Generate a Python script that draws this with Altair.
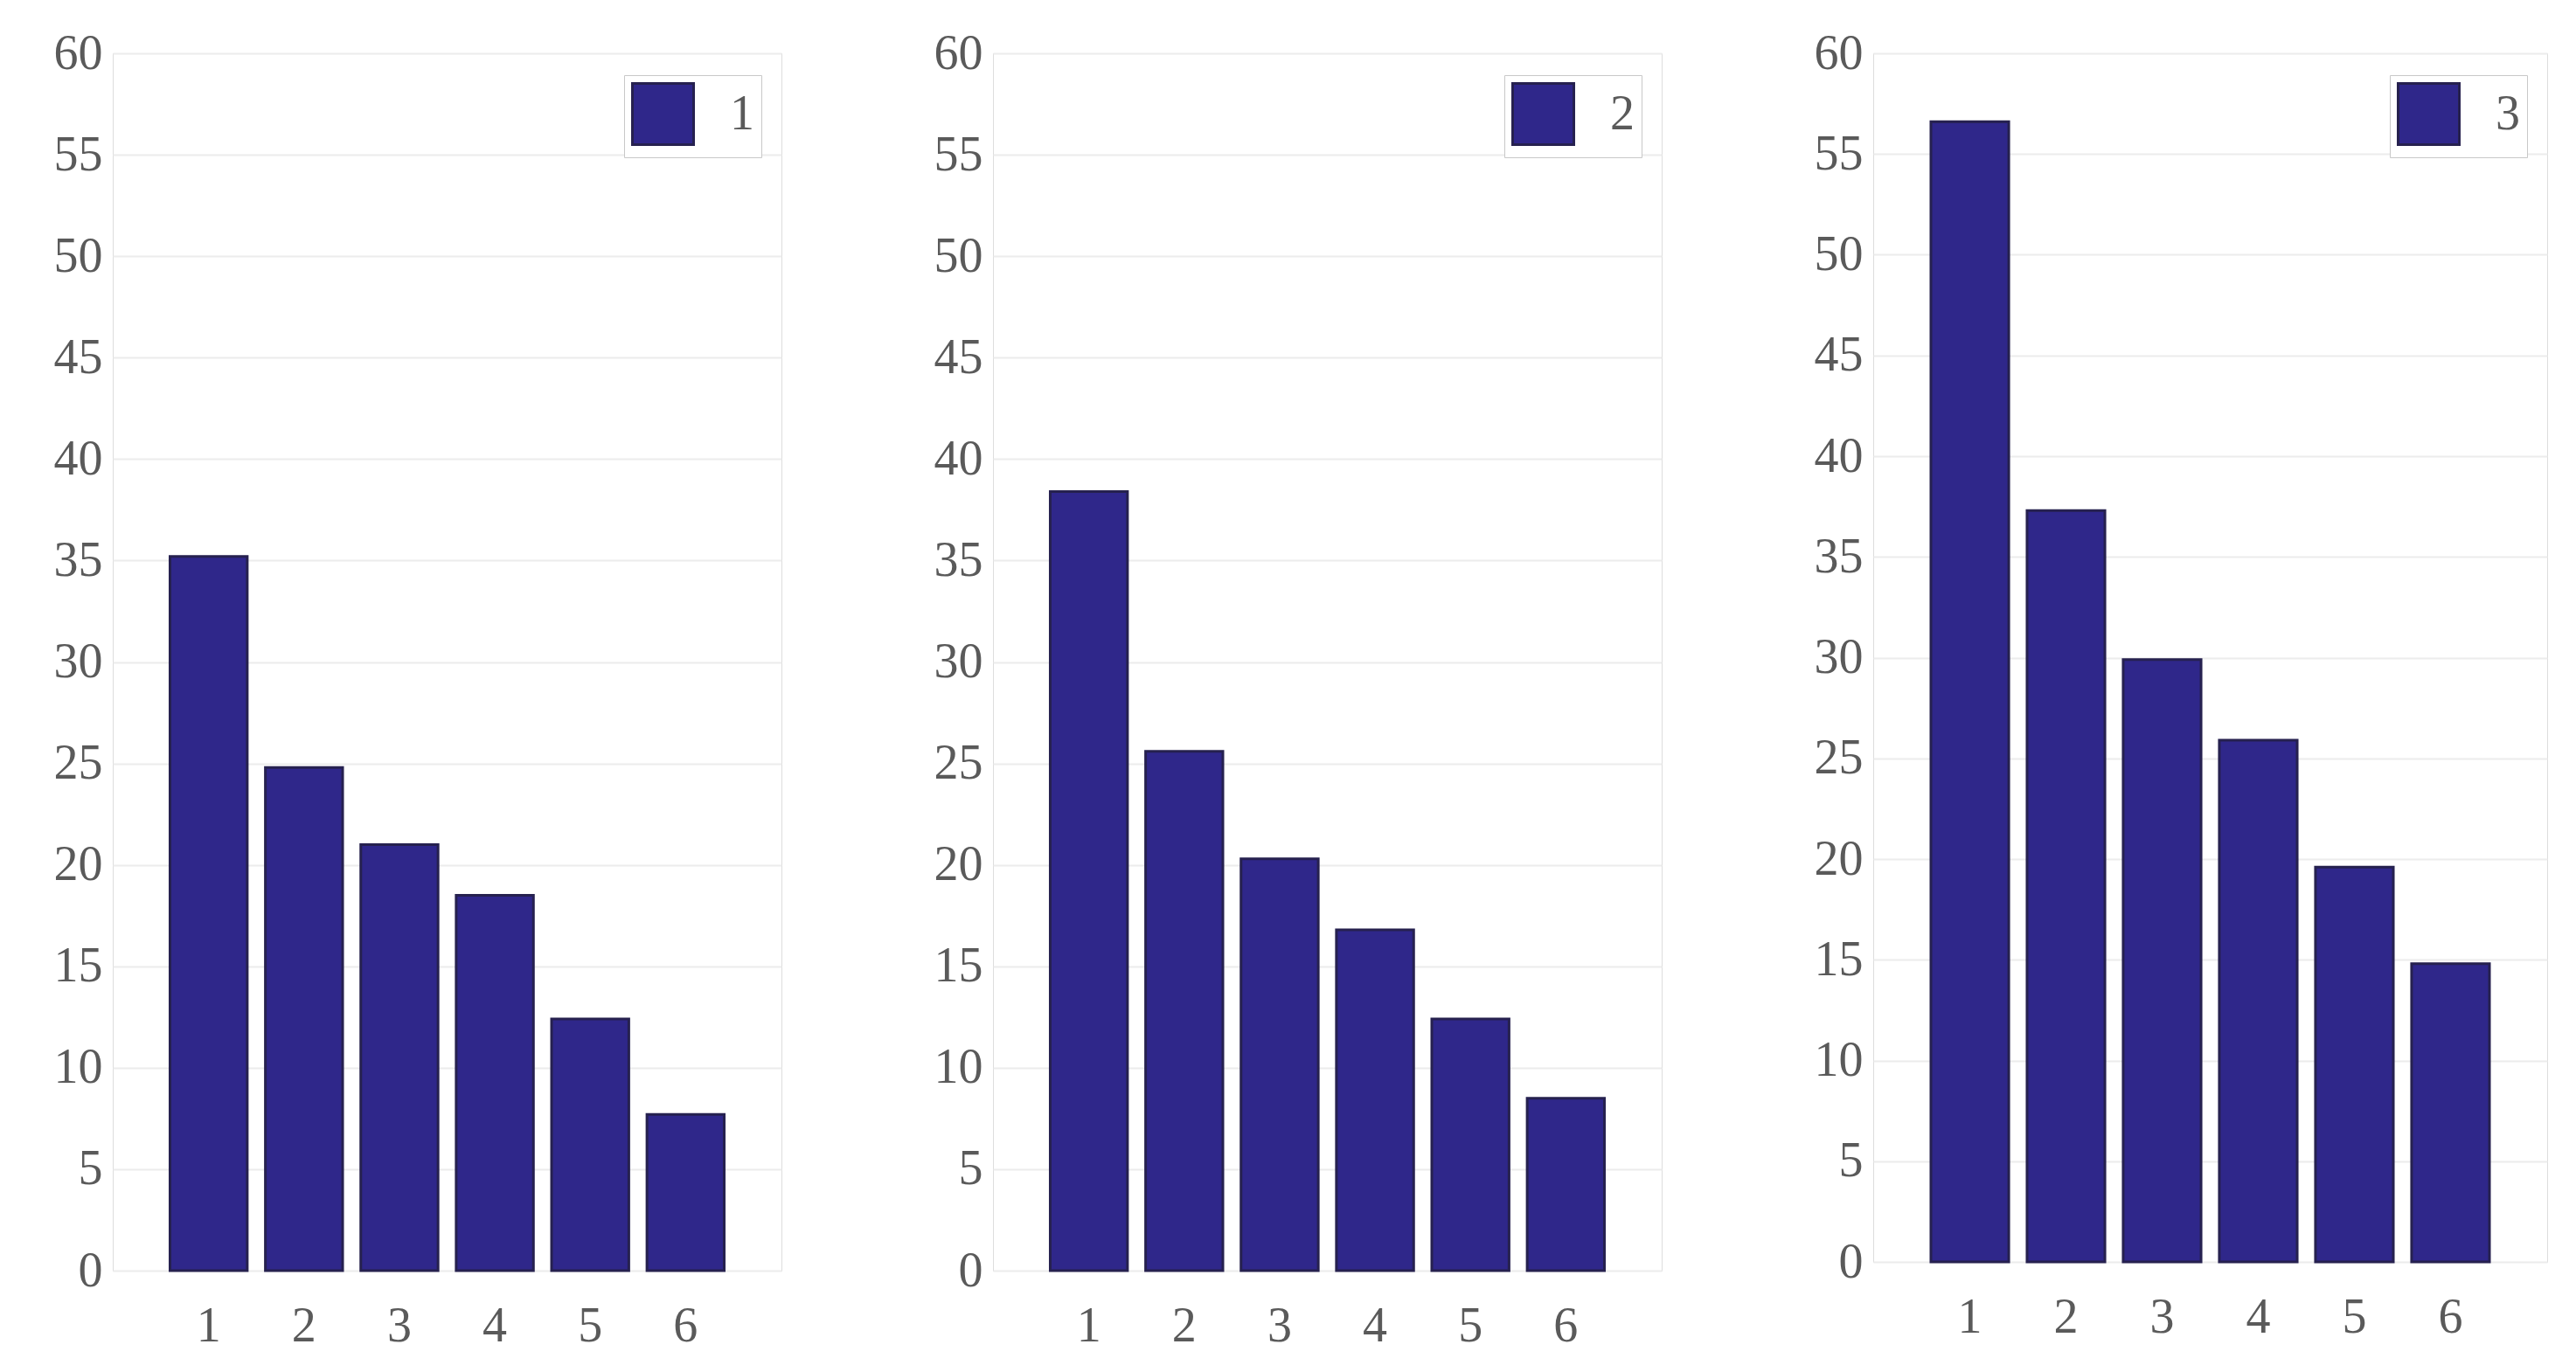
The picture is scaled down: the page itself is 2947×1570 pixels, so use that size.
import altair as alt
import pandas as pd

categories = ["1", "2", "3", "4", "5", "6"]
series_names = ["1", "2", "3"]
series_1 = [35.2, 24.8, 21.0, 18.5, 12.4, 7.7]
series_2 = [38.4, 25.6, 20.3, 16.8, 12.4, 8.5]
series_3 = [56.6, 37.3, 29.9, 25.9, 19.6, 14.8]
y_ticks = list(range(0, 61, 5))

BAR = "#2f278a"
EDGE = "#26214f"
TXT = "#5a5a5a"
FONT = "Liberation Serif"


def panel(vals, name, w, h):
    df = pd.DataFrame({"cat": categories, "val": vals, "series": name})
    return (
        alt.Chart(df)
        .mark_bar(stroke=EDGE, strokeWidth=3, fillOpacity=1)
        .encode(
            x=alt.X(
                "cat:N",
                sort=categories,
                scale=alt.Scale(paddingInner=0.19, paddingOuter=0.6),
                axis=alt.Axis(
                    title=None, labelAngle=0, ticks=False, domain=False,
                    labelPadding=36, labelFont=FONT, labelFontSize=56,
                    labelColor=TXT, grid=False,
                ),
            ),
            y=alt.Y(
                "val:Q",
                scale=alt.Scale(domain=[0, 60], nice=False),
                axis=alt.Axis(
                    title=None, values=y_ticks, ticks=False, domain=False,
                    labelPadding=12, labelFont=FONT, labelFontSize=56,
                    labelColor=TXT, grid=True, gridColor="#ececec",
                    gridWidth=2, minExtent=115, maxExtent=115,
                ),
            ),
            color=alt.Color(
                "series:N",
                scale=alt.Scale(domain=[name], range=[BAR]),
                legend=alt.Legend(
                    title=None, orient="none", legendX=w - 180, legendY=25,
                    symbolType="square", symbolSize=4900,
                    symbolStrokeColor=EDGE, symbolStrokeWidth=3,
                    labelFont=FONT, labelFontSize=56, labelColor=TXT,
                    labelOffset=40, padding=8, strokeColor="#c8c8c8",
                    fillColor="white", cornerRadius=0,
                ),
            ),
        )
        .properties(width=w, height=h)
    )


chart = (
    alt.hconcat(
        panel(series_1, series_names[0], 765, 1393),
        panel(series_2, series_names[1], 765, 1393),
        panel(series_3, series_names[2], 771, 1383),
        spacing=125,
    )
    .resolve_scale(color="independent")
    .resolve_legend(color="independent")
    .properties(padding={"left": 5, "top": 24, "right": 5, "bottom": 5})
    .configure_view(stroke="#c8c8c8", strokeWidth=3)
    .configure(background="white")
)

chart.save("out.html", embed_options={"renderer": "svg", "actions": False})
